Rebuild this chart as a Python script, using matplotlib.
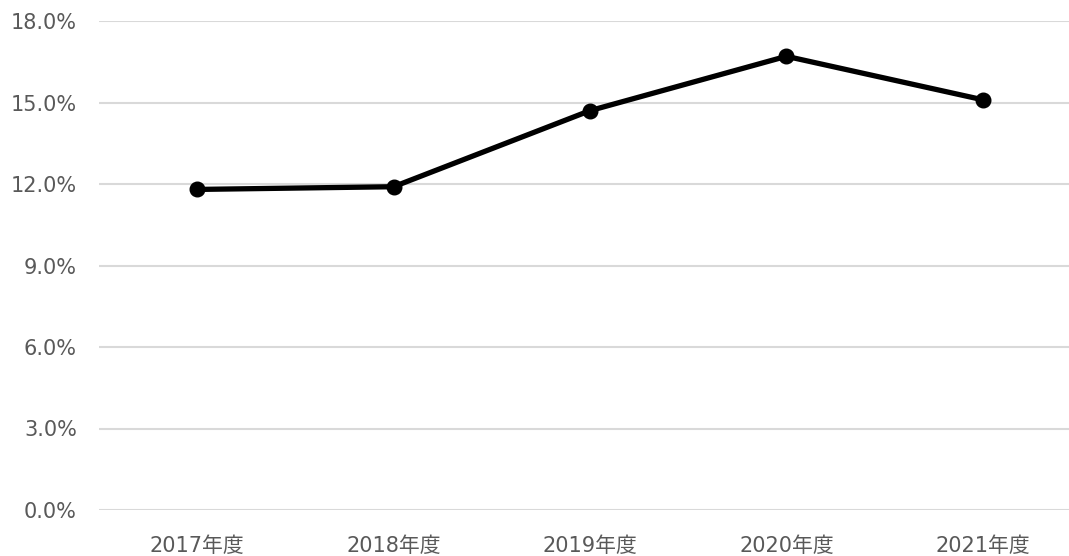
"""
年度別の推移(折れ線グラフ)
"""
import matplotlib
matplotlib.use("Agg")
import matplotlib.pyplot as plt
from matplotlib.ticker import FuncFormatter, MultipleLocator

plt.rcParams["font.family"] = ["DejaVu Sans", "Noto Sans CJK JP"]

# データ
years = ["2017年度", "2018年度", "2019年度", "2020年度", "2021年度"]
rates = [11.8, 11.9, 14.7, 16.7, 15.1]  # %

W, H = 1069, 556
fig = plt.figure(figsize=(W / 100, H / 100), dpi=100)
# 右端は図の外まではみ出す(目盛線が画像端まで届くため)
ax = fig.add_axes([99 / W, 46 / H, 982 / W, 489 / H])

x = range(len(years))
ax.plot(x, rates, color="black", linewidth=3.8, marker="o",
        markersize=10.5, solid_capstyle="round", zorder=3, clip_on=False)

ax.set_xlim(-0.5, len(years) - 0.5)
ax.set_ylim(0, 18)
ax.yaxis.set_major_locator(MultipleLocator(3))
ax.yaxis.set_major_formatter(FuncFormatter(lambda v, _: f"{v:.1f}%"))
ax.set_xticks(list(x))
ax.set_xticklabels(years)

ax.grid(axis="y", color="#d9d9d9", linewidth=1.5)
ax.set_axisbelow(True)
for s in ax.spines.values():
    s.set_visible(False)
ax.tick_params(axis="both", length=0, labelsize=15, labelcolor="#595959")
ax.tick_params(axis="y", pad=16)
ax.tick_params(axis="x", pad=19)

fig.savefig("out.png", dpi=100)
